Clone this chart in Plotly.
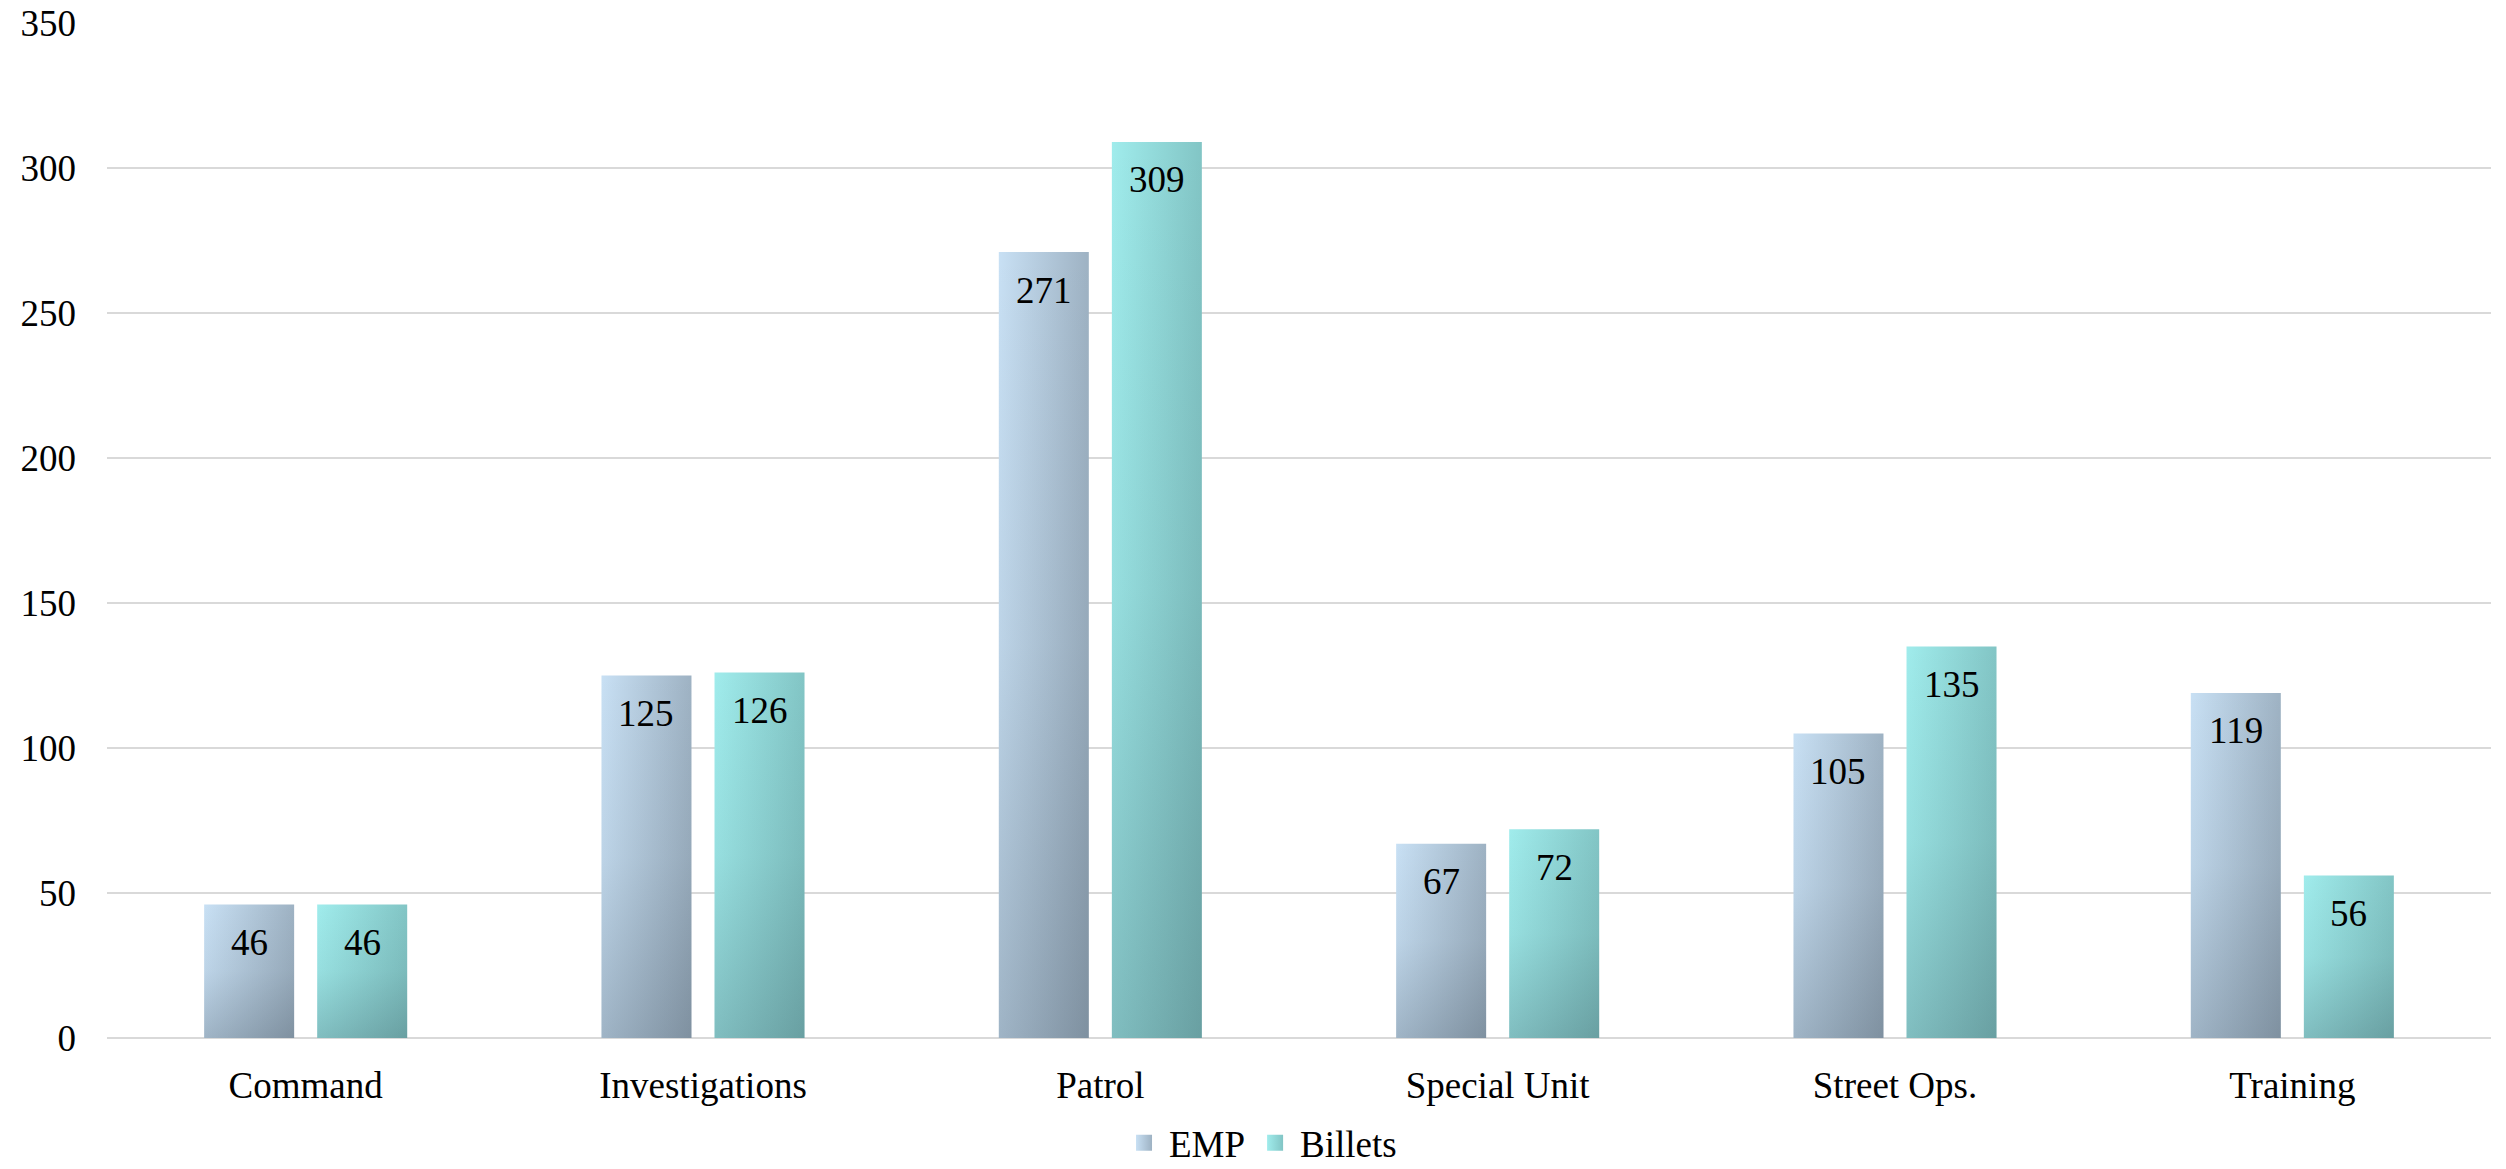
import plotly.graph_objects as go

# Headcount by division: employees on the roster vs. authorised billets
categories = ["Command", "Investigations", "Patrol", "Special Unit", "Street Ops.", "Training"]
emp = [46, 125, 271, 67, 105, 119]
billets = [46, 126, 309, 72, 135, 56]
y_ticks = [0, 50, 100, 150, 200, 250, 300, 350]

FONT = "Liberation Serif"
FONT_SIZE = 37

# bar geometry in category units
BAR_W = 0.2265
GAP = 0.058

series = [
    dict(name="EMP", values=emp, side=-1, left="#C8E0F4", right="#9EB2C3"),
    dict(name="Billets", values=billets, side=1, left="#A0ECEC", right="#82C5C5"),
]

# vertical shading laid over each bar: darker towards the base
shade_scale = [[0.0, "rgba(15,25,35,0.22)"], [0.5, "rgba(15,25,35,0.06)"], [1.0, "rgba(15,25,35,0.0)"]]

fig = go.Figure()
annotations = []

for s in series:
    for i, v in enumerate(s["values"]):
        if s["side"] < 0:
            x0, x1 = i - GAP / 2 - BAR_W, i - GAP / 2
        else:
            x0, x1 = i + GAP / 2, i + GAP / 2 + BAR_W
        xs = [x0, x1, x1, x0, x0]
        ys = [0, 0, v, v, 0]
        fig.add_trace(go.Scatter(
            x=xs, y=ys, mode="lines", fill="toself",
            line=dict(width=0),
            fillgradient=dict(type="horizontal",
                              colorscale=[[0, s["left"]], [1, s["right"]]]),
            showlegend=False, hoverinfo="skip",
        ))
        fig.add_trace(go.Scatter(
            x=xs, y=ys, mode="lines", fill="toself",
            line=dict(width=0),
            fillgradient=dict(type="vertical", colorscale=shade_scale),
            showlegend=False, hoverinfo="skip",
        ))
        annotations.append(dict(
            x=(x0 + x1) / 2, y=v, xref="x", yref="y",
            text=str(v), showarrow=False, yanchor="middle", yshift=-38,
            font=dict(family=FONT, size=FONT_SIZE, color="#000000"),
        ))

# legend swatches
for s in series:
    fig.add_trace(go.Scatter(
        x=[None], y=[None], mode="markers", name=s["name"],
        marker=dict(symbol="square", size=16, color=s["left"],
                    gradient=dict(type="horizontal", color=s["right"])),
    ))

fig.update_layout(
    width=2506, height=1169,
    margin=dict(l=107, r=15, t=23, b=131),
    paper_bgcolor="white", plot_bgcolor="white",
    font=dict(family=FONT, size=FONT_SIZE, color="#000000"),
    showlegend=True,
    legend=dict(orientation="h", xref="container", x=0.503, xanchor="center",
                yref="container", y=0.022, yanchor="middle",
                font=dict(family=FONT, size=FONT_SIZE), itemsizing="trace",
                traceorder="normal", itemwidth=40, tracegroupgap=10),
    annotations=annotations,
    xaxis=dict(range=[-0.5, len(categories) - 0.5], tickvals=list(range(len(categories))),
               ticktext=categories, showgrid=False, zeroline=False, showline=False,
               ticks="", tickfont=dict(family=FONT, size=FONT_SIZE), fixedrange=True,
               ticklabelstandoff=22, automargin=False),
    yaxis=dict(range=[0, 350], tickvals=y_ticks, showgrid=True, gridcolor="#D9D9D9",
               gridwidth=2, zeroline=True, zerolinecolor="#D9D9D9", zerolinewidth=2,
               showline=False, ticks="", tickfont=dict(family=FONT, size=FONT_SIZE),
               ticklabelstandoff=30, fixedrange=True, automargin=False),
)

fig.write_html("out.html")
